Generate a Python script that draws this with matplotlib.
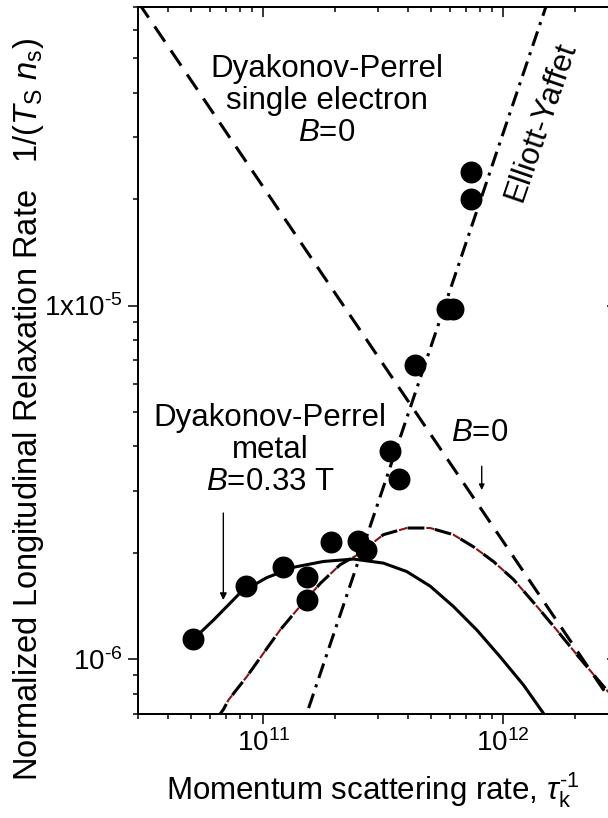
import numpy as np
import matplotlib
matplotlib.use("Agg")
import matplotlib.pyplot as plt
from matplotlib.ticker import LogLocator, NullFormatter, FixedLocator, FixedFormatter

plt.rcParams['font.family'] = 'Liberation Sans'
plt.rcParams['mathtext.fontset'] = 'custom'
plt.rcParams['mathtext.rm'] = 'Liberation Sans'
plt.rcParams['mathtext.it'] = 'Liberation Sans:italic'
plt.rcParams['mathtext.bf'] = 'Liberation Sans:bold'

# measured points
rate_x = [5.10e10, 8.47e10, 1.205e11, 1.52e11, 1.52e11, 1.91e11, 2.49e11, 2.69e11,
          3.38e11, 3.69e11, 4.30e11, 5.84e11, 6.22e11, 7.35e11, 7.35e11]
rate_y = [1.14e-6, 1.61e-6, 1.82e-6, 1.71e-6, 1.47e-6, 2.15e-6, 2.16e-6, 2.04e-6,
          3.87e-6, 3.23e-6, 6.81e-6, 9.8e-6, 9.8e-6, 2.38e-5, 2.0e-5]

# DP single electron, B=0 (straight line in log-log)
dp_single_x = [3.0e10, 3.0e12]
dp_single_y = [7.2e-5, 7.2e-7]

# Elliott-Yafet (straight line)
ey_x = [1.4e11, 1.6e12]
ey_y = [5.98e-7, 7.81e-5]

# DP metal, B=0.33 T (solid)
dp_metal_x = [5.10e10, 6.18e10, 7.99e10, 1.03e11, 1.335e11, 1.78e11, 2.38e11, 3.17e11,
              3.97e11, 4.97e11, 6.22e11, 7.79e11, 9.74e11, 1.22e12, 1.48e12, 1.58e12]
dp_metal_y = [1.14e-6, 1.29e-6, 1.54e-6, 1.70e-6, 1.82e-6, 1.89e-6, 1.92e-6, 1.87e-6,
              1.77e-6, 1.61e-6, 1.41e-6, 1.21e-6, 1.017e-6, 8.46e-7, 7.03e-7, 6.66e-7]

# DP metal, B=0 (dashed, red/black)
dp_b0_x = [6.41e10, 6.81e10, 7.14e10, 8.52e10, 1.0e11, 1.174e11, 1.42e11, 1.73e11, 2.09e11,
           2.46e11, 3.17e11, 3.97e11, 4.97e11, 6.22e11, 7.54e11, 9.14e11, 1.11e12,
           1.39e12, 1.68e12, 2.04e12, 2.47e12, 3.0e12]
dp_b0_y = [6.82e-7, 7.22e-7, 7.67e-7, 8.93e-7, 1.04e-6, 1.21e-6, 1.41e-6, 1.64e-6, 1.85e-6,
           1.97e-6, 2.25e-6, 2.35e-6, 2.35e-6, 2.25e-6, 2.08e-6, 1.89e-6, 1.68e-6,
           1.41e-6, 1.21e-6, 1.03e-6, 8.83e-7, 7.57e-7]

xlim = (3e10, 3e12)
ylim = (7e-7, 7e-5)

fig = plt.figure(figsize=(6.08, 8.18), dpi=100)
ax = fig.add_axes([0.2275, 0.1271, 0.7872, 0.8647])
ax.set_xscale('log')
ax.set_yscale('log')

ax.plot(dp_single_x, dp_single_y, color='k', lw=2.2, ls=(0, (6, 3.5)), zorder=2)
ax.plot(ey_x, ey_y, color='k', lw=2.2, ls=(0, (5, 2.2, 1, 2.2)), zorder=2)
ax.plot(dp_b0_x, dp_b0_y, color='#8b1010', lw=1.5, ls=(4.2, (4.0, 9.2)), zorder=2)
ax.plot(dp_b0_x, dp_b0_y, color='k', lw=2.2, ls=(0, (5.5, 3.5)), zorder=3)
ax.plot(dp_metal_x, dp_metal_y, color='k', lw=2.2, zorder=3)
ax.plot(rate_x, rate_y, 'o', color='k', ms=14.8, zorder=4)

ax.set_xlim(*xlim)
ax.set_ylim(*ylim)

ax.xaxis.set_major_locator(FixedLocator([1e11, 1e12]))
ax.xaxis.set_major_formatter(FixedFormatter([r'10$^{11}$', r'10$^{12}$']))
ax.xaxis.set_minor_locator(LogLocator(base=10, subs=np.arange(2, 10)))
ax.xaxis.set_minor_formatter(NullFormatter())
ax.yaxis.set_major_locator(FixedLocator([1e-6, 1e-5]))
ax.yaxis.set_major_formatter(FixedFormatter([r'10$^{\text{-}6}$', r'1x10$^{\text{-}5}$']))
ax.yaxis.set_minor_locator(LogLocator(base=10, subs=np.arange(2, 10)))
ax.yaxis.set_minor_formatter(NullFormatter())
ax.tick_params(which='major', direction='out', length=7.2, width=1.1, labelsize=20, pad=4)
ax.tick_params(which='minor', direction='out', length=3.6, width=1.1)
for s in ax.spines.values():
    s.set_linewidth(1.2)

# inward ticks on top and right
axt = ax.twiny()
axt.set_xscale('log')
axt.set_xlim(*xlim)
axt.xaxis.set_major_locator(FixedLocator([1e11, 1e12]))
axt.xaxis.set_minor_locator(LogLocator(base=10, subs=np.arange(2, 10)))
axt.tick_params(which='major', direction='in', length=7.2, width=1.1, labeltop=False)
axt.tick_params(which='minor', direction='in', length=3.6, width=1.1)
axr = ax.twinx()
axr.set_yscale('log')
axr.set_ylim(*ylim)
axr.yaxis.set_major_locator(FixedLocator([1e-6, 1e-5]))
axr.yaxis.set_minor_locator(LogLocator(base=10, subs=np.arange(2, 10)))
axr.tick_params(which='major', direction='in', length=7.2, width=1.1, labelright=False)
axr.tick_params(which='minor', direction='in', length=3.6, width=1.1, labelright=False)
for a in (axt, axr):
    for s in a.spines.values():
        s.set_linewidth(1.2)

fs = 22.5
ax.text(0.3936, 0.8667, 'Dyakonov-Perrel\nsingle electron\n$B$=0', transform=ax.transAxes,
        ha='center', va='center', fontsize=fs, linespacing=1.1, zorder=5)
ax.text(0.2757, 0.3733, 'Dyakonov-Perrel\nmetal\n$B$=0.33 T', transform=ax.transAxes,
        ha='center', va='center', fontsize=fs, linespacing=1.1, zorder=5)
ax.text(0.7139, 0.3969, '$B$=0', transform=ax.transAxes, ha='center', va='center',
        fontsize=fs, zorder=5)
ax.text(0.8404, 0.8377, 'Elliott-Yaffet', transform=ax.transAxes, ha='center', va='center',
        fontsize=fs, rotation=71, rotation_mode='anchor', zorder=5)

ax.annotate('', xy=(0.1776, 0.1612), xytext=(0.1776, 0.2842), xycoords='axes fraction',
            arrowprops=dict(arrowstyle='-|>', color='k', lw=1.0, mutation_scale=10,
                            shrinkA=0, shrinkB=0))
ax.annotate('', xy=(0.7175, 0.3167), xytext=(0.7175, 0.3502), xycoords='axes fraction',
            arrowprops=dict(arrowstyle='-|>', color='k', lw=1.0, mutation_scale=8,
                            shrinkA=0, shrinkB=0))

fig.text(29 / 608, 1 - 410 / 818,
         r'Normalized Longitudinal Relaxation Rate   1/($T_{\rm S}$ $n_{\rm s}$)',
         rotation=90, ha='center', va='center', fontsize=23.5)
fig.text(373 / 608, 1 - 800 / 818, r'Momentum scattering rate, $\tau_{\rm k}^{\text{-}1}$',
         ha='center', va='baseline', fontsize=22.5)

fig.savefig('out.png', dpi=100)
